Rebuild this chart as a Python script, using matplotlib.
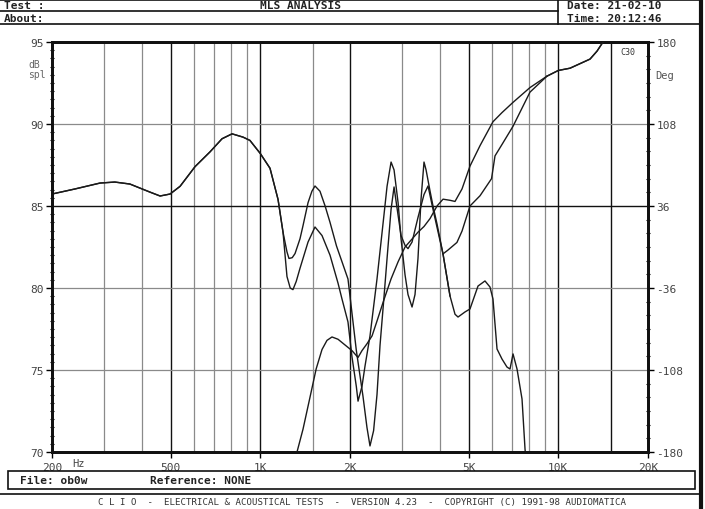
import matplotlib
matplotlib.use('Agg')
import matplotlib.pyplot as plt
from matplotlib.lines import Line2D
from matplotlib.patches import Rectangle

# --- data (Hz / dB SPL / degrees) ---
mag_low_hz = [200, 239, 290, 325, 365, 426, 461, 498, 538, 604, 678, 744, 804,
              875, 923, 1000, 1078, 1147, 1192]
mag_low_db = [85.73, 86.04, 86.40, 86.46, 86.34, 85.85, 85.61, 85.73, 86.2,
              87.4, 88.3, 89.1, 89.4, 89.2, 89.0, 88.2, 87.3, 85.4, 83.4]

mag_a_hz = [1229, 1248, 1280, 1308, 1359, 1391, 1446, 1490, 1526, 1586, 1650,
            1714, 1802, 1880, 1969, 2000, 2100, 2211, 2280, 2334, 2400, 2464,
            2522, 2602, 2663, 2747, 2811, 2870, 2967, 3060, 3131, 3230, 3382,
            3543, 3655, 3798, 3918, 4104, 4332]
mag_a_db = [82.2, 81.8, 81.85, 82.1, 83.0, 83.8, 85.2, 85.9, 86.22, 85.9, 85.0,
            84.0, 82.56, 81.6, 80.55, 79.5, 76.2, 73.4, 71.5, 70.37, 71.3, 73.5,
            76.5, 79.5, 81.8, 84.8, 86.16, 85.0, 83.2, 82.6, 82.4, 82.8, 84.3,
            85.7, 86.22, 84.8, 83.7, 82.07, 79.51]

mag_b_hz = [1229, 1260, 1287, 1320, 1359, 1446, 1526, 1611, 1714, 1823, 1880,
            1969, 2031, 2100, 2128, 2194, 2246, 2334, 2464, 2602, 2663, 2747,
            2811, 2900, 2967, 3060, 3131, 3230, 3305, 3382, 3462, 3543, 3600,
            3713, 3798, 3918, 4104, 4332, 4502, 4608, 4864, 5054, 5378, 5676,
            5899, 6037, 6229, 6472, 6727, 6886, 7048, 7270, 7556, 7733, 7850]
mag_b_db = [80.7, 80.0, 79.9, 80.4, 81.2, 82.8, 83.72, 83.2, 82.0, 80.3, 79.33,
            77.93, 75.8, 74.0, 73.1, 74.0, 75.24, 77.07, 80.55, 84.5, 86.2,
            87.68, 87.2, 85.2, 83.0, 80.8, 79.6, 78.84, 79.6, 81.8, 85.4, 87.68,
            87.2, 85.9, 85.0, 83.9, 82.07, 79.51, 78.4, 78.23, 78.54, 78.72,
            80.12, 80.43, 80.06, 79.33, 76.28, 75.67, 75.18, 75.06, 75.98,
            75.06, 73.23, 70.18, 68.96]

phase_1_hz = [1300, 1328, 1391, 1468, 1540, 1611, 1674, 1740, 1823, 1924, 2031,
              2128, 2194, 2280, 2372, 2464, 2602, 2747, 2900, 3060, 3230, 3382,
              3543, 3713, 3918, 4104, 4332, 4502, 4753, 5054, 5462, 6037, 6472,
              7048, 8036, 9162]
phase_1_deg = [-202, -180, -160, -132, -107, -90, -82, -79, -81, -86, -91, -97,
               -91, -85, -78, -65, -46, -28, -13, 0, 7, 13, 18, 25, 36, 42, 41,
               40, 51, 71, 89, 110, 118, 127, 140, 150]

phase_2_hz = [4104, 4250, 4570, 4753, 5054, 5462, 5970, 6132, 6472, 7048, 8036,
              9162, 10000, 10950, 11830, 12780, 13490, 14130, 15000]
phase_2_deg = [-6, -3, 4, 14, 36, 45, 60, 80, 90, 106, 136, 150, 155, 157, 161,
               165, 172, 180, 187]

tick_hz = [200, 500, 1000, 2000, 5000, 10000, 20000]
tick_lab = ['200', '500', '1K', '2K', '5K', '10K', '20K']
grid_dark = [500, 1000, 2000, 5000, 10000, 15000]
grid_light = [300, 400, 600, 700, 800, 900, 1500, 3000, 4000, 6000, 7000,
              8000, 9000]
db_ticks = [70, 75, 80, 85, 90, 95]
deg_ticks = [-180, -108, -36, 36, 108, 180]

W, H = 705, 510
MONO = 'DejaVu Sans Mono'
TXT = '#444444'


def fx(x):
    return x / W


def fy(y):
    return 1 - y / H


fig = plt.figure(figsize=(W / 100, H / 100), dpi=100)
ax = fig.add_axes([fx(52), fy(453), 596 / W, 410 / H])
ax.set_xscale('log')
ax.set_xlim(200, 20000)
ax.set_ylim(70, 95)

for f in grid_light:
    ax.axvline(f, color='#8a8a8a', lw=0.9, zorder=1)
for f in grid_dark:
    ax.axvline(f, color='#111111', lw=1.0, zorder=1)
for v in [75, 80, 90]:
    ax.axhline(v, color='#8a8a8a', lw=0.9, zorder=1)
ax.axhline(85, color='#111111', lw=1.0, zorder=1)

line_kw = dict(color='#1a1a1a', lw=1.0, zorder=3)
ax.plot(mag_low_hz + mag_a_hz, mag_low_db + mag_a_db, **line_kw)
ax.plot(mag_low_hz + mag_b_hz, mag_low_db + mag_b_db, **line_kw)

ax2 = ax.twinx()
ax2.set_ylim(-180, 180)
ax2.plot(phase_1_hz, phase_1_deg, **line_kw)
ax2.plot(phase_2_hz, phase_2_deg, **line_kw)
ax2.plot(phase_1_hz[-1:] + phase_2_hz[-7:], phase_1_deg[-1:] + phase_2_deg[-7:], **line_kw)

for a in (ax, ax2):
    for s in a.spines.values():
        s.set_linewidth(2.0)
        s.set_color('#111111')

ax.set_xticks(tick_hz)
ax.set_xticklabels(tick_lab)
ax.xaxis.set_minor_locator(plt.NullLocator())
ax.tick_params(axis='x', length=4, width=1, direction='out', pad=3,
               labelsize=8, labelcolor=TXT)
for t in ax.get_xticklabels():
    t.set_family(MONO)

ax.set_yticks(db_ticks)
ax.set_yticks([v / 2 for v in range(140, 191)], minor=True)
ax.tick_params(axis='y', which='major', length=4, width=1, pad=2,
               labelsize=8, labelcolor=TXT)
ax.tick_params(axis='y', which='minor', length=2.5, width=0.8, direction='inout')
for t in ax.get_yticklabels():
    t.set_family(MONO)

ax2.set_yticks(deg_ticks)
ax2.set_yticklabels([str(v) for v in deg_ticks])
ax2.set_yticks(list(range(-180, 181, 12)), minor=True)
ax2.tick_params(axis='y', which='major', length=4, width=1, pad=2,
                labelsize=8, labelcolor=TXT)
ax2.tick_params(axis='y', which='minor', length=2.5, width=0.8, direction='inout')
for t in ax2.get_yticklabels():
    t.set_family(MONO)

ax.text(0.966, 0.988, 'C30', transform=ax.transAxes, fontsize=6,
        family=MONO, color='#333333', ha='center', va='top')
fig.text(fx(28), fy(70), 'dB\nspl', family=MONO, fontsize=7, color='#666666',
         va='center', ha='left', linespacing=0.95)
fig.text(fx(655), fy(76), 'Deg', family=MONO, fontsize=7.5, color='#555555',
         va='center', ha='left')
fig.text(fx(72), fy(464), 'Hz', family=MONO, fontsize=7.5, color=TXT,
         va='center', ha='left')

# header
def hline(x0, x1, y, lw=1.2):
    fig.add_artist(Line2D([fx(x0), fx(x1)], [fy(y), fy(y)], color='#111111',
                          lw=lw, transform=fig.transFigure))


def vline(x, y0, y1, lw=1.2):
    fig.add_artist(Line2D([fx(x), fx(x)], [fy(y0), fy(y1)], color='#111111',
                          lw=lw, transform=fig.transFigure))


hline(0, 701, 0.5)
hline(0, 558, 12)
hline(0, 701, 25)
vline(558, 0, 25)
vline(701, 0, 510, lw=3)

hdr = dict(family=MONO, fontsize=8, color='#222222', weight='bold', va='center')
fig.text(fx(4), fy(6), 'Test :', ha='left', **hdr)
fig.text(fx(301), fy(6), 'MLS ANALYSIS', ha='center', **hdr)
fig.text(fx(4), fy(18.5), 'About:', ha='left', **hdr)
fig.text(fx(567), fy(6), 'Date: 21-02-10', ha='left', **hdr)
fig.text(fx(567), fy(18.5), 'Time: 20:12:46', ha='left', **hdr)

# footer
fig.add_artist(Rectangle((fx(8), fy(490)), (695 - 8) / W, 18 / H, fill=False,
                         ec='#111111', lw=1.2, transform=fig.transFigure))
fig.text(fx(20), fy(481), 'File: ob0w', ha='left', **hdr)
fig.text(fx(150), fy(481), 'Reference: NONE', ha='left', **hdr)
hline(0, 701, 495)
fig.text(fx(362), fy(503),
         'C L I O  -  ELECTRICAL & ACOUSTICAL TESTS  -  VERSION 4.23  -  '
         'COPYRIGHT (C) 1991-98 AUDIOMATICA',
         family=MONO, fontsize=6.6, color='#333333', ha='center', va='center')

fig.savefig('out.png', dpi=100, facecolor='white')
